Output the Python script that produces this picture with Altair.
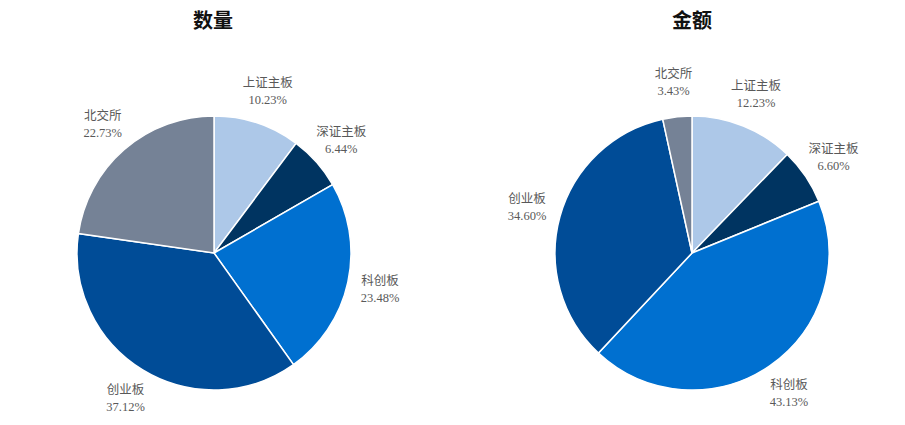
import altair as alt
import pandas as pd

categories = ["上证主板", "深证主板", "科创板", "创业板", "北交所"]
count_pct = [10.23, 6.44, 23.48, 37.12, 22.73]
amount_pct = [12.23, 6.60, 43.13, 34.60, 3.43]
titles = ["数量", "金额"]
colors = ["#adc8e8", "#003461", "#0070d0", "#004c97", "#758296"]

FONT = "Liberation Serif, Noto Sans CJK SC, serif"


def make_df(vals):
    return pd.DataFrame({
        "cat": categories,
        "val": vals,
        "idx": list(range(len(categories))),
        "label": [f"{c}\n{v:.2f}%" for c, v in zip(categories, vals)],
    })


color = alt.Color("cat:N", scale=alt.Scale(domain=categories, range=colors), legend=None)


def pie(df, cx, cy, r, lr):
    base = alt.Chart(df).encode(
        theta=alt.Theta("val:Q", stack=True),
        order=alt.Order("idx:Q"),
    )
    arc = base.mark_arc(outerRadius=r, stroke="white", strokeWidth=1.5).encode(
        color=color, x=alt.value(cx), y=alt.value(cy)
    )
    txt = base.mark_text(
        radius=lr, font=FONT, fontSize=12.5, color="#595959",
        lineBreak="\n", lineHeight=17, align="center", baseline="middle", dy=-8.5
    ).encode(text="label:N", x=alt.value(cx), y=alt.value(cy))
    return arc, txt


a1, t1 = pie(make_df(count_pct), 206, 245, 137, 170)
a2, t2 = pie(make_df(amount_pct), 684, 245, 137, 171)

tdf = pd.DataFrame({"t": titles, "k": [0, 1]})
ttl1 = alt.Chart(tdf[tdf.k == 0]).mark_text(
    font=FONT, fontSize=20, fontWeight="bold", color="#111111"
).encode(text="t:N", x=alt.value(205), y=alt.value(14))
ttl2 = alt.Chart(tdf[tdf.k == 1]).mark_text(
    font=FONT, fontSize=20, fontWeight="bold", color="#111111"
).encode(text="t:N", x=alt.value(684), y=alt.value(14))

chart = alt.layer(a1, t1, a2, t2, ttl1, ttl2).resolve_scale(
    theta="independent"
).properties(
    width=889, height=409, padding=0, background="white"
).configure_view(stroke=None)

chart.save("out.html", embed_options={"renderer": "svg", "actions": False})
